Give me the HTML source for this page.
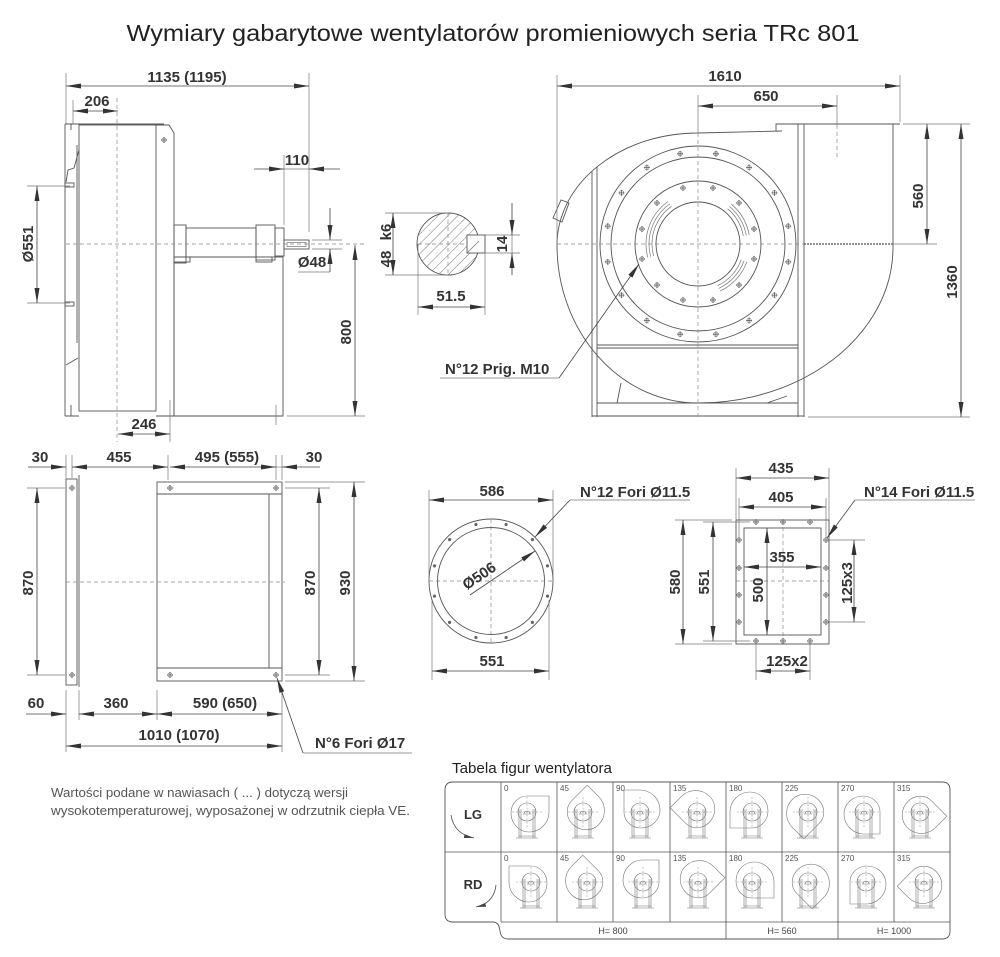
<!DOCTYPE html>
<html><head><meta charset="utf-8"><style>
html,body{margin:0;padding:0;background:#fff;}
svg{display:block;}
.l{stroke:#555;stroke-width:0.9;fill:none;}
.t{stroke:#777;stroke-width:0.7;fill:none;}
.c{stroke:#888;stroke-width:0.7;fill:none;stroke-dasharray:4 3;}
.dm{stroke:#444;stroke-width:0.8;fill:none;marker-start:url(#a);marker-end:url(#a);}
.de{stroke:#444;stroke-width:0.8;fill:none;marker-end:url(#a);}
.x{stroke:#777;stroke-width:0.7;fill:none;}
text{font-family:"Liberation Sans",Arial,sans-serif;}
.d{font-size:15px;font-weight:bold;fill:#333;}
.g{font-size:8px;fill:#555;}
</style></head><body>
<svg width="1000" height="957" viewBox="0 0 1000 957" xmlns="http://www.w3.org/2000/svg">
<defs>
<marker id="a" viewBox="0 0 15 5" refX="15" refY="2.5" markerWidth="15" markerHeight="5" markerUnits="userSpaceOnUse" orient="auto-start-reverse"><path d="M0,0 L15,2.5 L0,5 Z" fill="#333"/></marker>
<marker id="s" viewBox="0 0 10 4" refX="10" refY="2" markerWidth="10" markerHeight="4" markerUnits="userSpaceOnUse" orient="auto"><path d="M0,0 L10,2 L0,4 Z" fill="#444"/></marker>
<g id="hb"><circle r="2.2" fill="none" stroke="#777" stroke-width="0.6"/><path d="M-3,0H3M0,-3V3" stroke="#555" stroke-width="0.8"/></g>
<pattern id="h" width="7" height="7" patternUnits="userSpaceOnUse" patternTransform="rotate(45)"><line x1="0" y1="0" x2="0" y2="7" stroke="#555" stroke-width="0.8"/></pattern>
<path id="sc" d="M0,-16 A16,17 0 0 0 -16,1 A18,19 0 0 0 2,20 A20,20 0 0 0 22,0 V-16 H0" fill="none" stroke="#777" stroke-width="0.6"/>
<g id="pd" stroke="#777" stroke-width="0.6" fill="none">
 <circle r="9"/>
 <path d="M-8,-3V26M8,-3V26M-6,-3V26M6,-3V26M-11,26H11M-8,24H8"/>
 <path d="M-3,2 A3,3 0 0 1 3,2 Z M-4,2H4"/>
 <path d="M-15,0H15M0,-15V15" stroke-dasharray="2 1.5" stroke-width="0.4"/>
</g>
</defs>

<!-- Title -->
<text x="493" y="41" text-anchor="middle" font-size="23" fill="#222" textLength="733" lengthAdjust="spacingAndGlyphs">Wymiary gabarytowe wentylatorów promieniowych seria TRc 801</text>

<!-- ================= SIDE VIEW ================= -->
<g class="l">
 <line x1="65" y1="124" x2="65" y2="416"/>
 <path d="M65,124 H164"/>
 <rect x="79" y="125" width="77" height="286"/>
 <line x1="77" y1="145" x2="77" y2="343"/>
 <path d="M156,125 H169 L174,133 V416"/>
 <path d="M65,416 H79 M156,416 H283"/>
 <path d="M71,124 V130 M71,405 V416"/>
 <path d="M79,150 L74,168 L68,170 L66,182 M66,365 L78,358"/>
 <rect x="65" y="183" width="9" height="4"/>
 <rect x="65" y="302" width="9" height="4"/>
 <!-- motor -->
 <rect x="174" y="225" width="12" height="38"/>
 <rect x="186" y="228" width="70" height="29"/>
 <rect x="256" y="225" width="19" height="35"/>
 <rect x="275" y="228" width="9" height="28"/>
 <rect x="174" y="257" width="109" height="159"/>
 <rect x="174" y="257" width="16" height="5"/>
 <rect x="256" y="257" width="16" height="5"/>
 <rect x="284" y="240" width="25" height="9"/>
 <rect x="287" y="242.5" width="19" height="4" class="t"/>
</g>
<use href="#hb" x="164" y="140"/>
<line x1="66" y1="244" x2="365" y2="244" class="c"/>
<line x1="117" y1="98" x2="117" y2="442" class="c"/>
<!-- side dims -->
<g class="x">
 <line x1="66" y1="73" x2="66" y2="124"/>
 <line x1="309" y1="73" x2="309" y2="232"/>
 <line x1="73" y1="100" x2="73" y2="124"/>
 <line x1="284" y1="155" x2="284" y2="225"/>
 <line x1="27" y1="186" x2="70" y2="186"/>
 <line x1="27" y1="303" x2="70" y2="303"/>
 <line x1="312" y1="240" x2="342" y2="240"/>
 <line x1="312" y1="249" x2="342" y2="249"/>
 <line x1="298" y1="272" x2="330" y2="272"/>
 <line x1="287" y1="416" x2="365" y2="416"/>
 <line x1="170" y1="400" x2="170" y2="442"/>
 <line x1="276" y1="405" x2="276" y2="425"/>
</g>
<line x1="66" y1="86" x2="309" y2="86" class="dm"/>
<text x="187" y="82" class="d" text-anchor="middle">1135 (1195)</text>
<line x1="73" y1="111" x2="118" y2="111" class="dm"/>
<text x="97" y="106" class="d" text-anchor="middle">206</text>
<line x1="254" y1="169" x2="284" y2="169" class="de"/>
<line x1="340" y1="169" x2="309" y2="169" class="de"/>
<line x1="284" y1="169" x2="309" y2="169" class="x"/>
<text x="297" y="165" class="d" text-anchor="middle">110</text>
<line x1="37" y1="186" x2="37" y2="303" class="dm"/>
<text transform="translate(33,244) rotate(-90)" class="d" text-anchor="middle">Ø551</text>
<line x1="330" y1="208" x2="330" y2="240" class="de"/>
<line x1="330" y1="272" x2="330" y2="249" class="de"/>
<text x="312" y="267" class="d" text-anchor="middle">Ø48</text>
<line x1="355" y1="245" x2="355" y2="416" class="dm"/>
<text transform="translate(351,332) rotate(-90)" class="d" text-anchor="middle">800</text>
<line x1="118" y1="434" x2="170" y2="434" class="dm"/>
<text x="144" y="429" class="d" text-anchor="middle">246</text>

<!-- ================= SHAFT SECTION ================= -->
<circle cx="448" cy="244" r="31" fill="url(#h)" stroke="#555" stroke-width="0.9"/>
<rect x="467" y="235" width="18" height="18" fill="#fff" stroke="#555" stroke-width="0.9"/>
<line x1="467" y1="253" x2="479" y2="241" class="t"/>
<path d="M418,244 H467 M448,213 V275" class="c"/>
<g class="x">
 <line x1="385" y1="213" x2="448" y2="213"/>
 <line x1="385" y1="275" x2="448" y2="275"/>
 <line x1="485" y1="235" x2="520" y2="235"/>
 <line x1="485" y1="253" x2="520" y2="253"/>
 <line x1="418" y1="244" x2="418" y2="315"/>
 <line x1="485" y1="253" x2="485" y2="315"/>
</g>
<line x1="393" y1="213" x2="393" y2="275" class="dm"/>
<text transform="translate(391,259) rotate(-90)" class="d" text-anchor="middle">48</text>
<text transform="translate(391,232) rotate(-90)" class="d" text-anchor="middle">k6</text>
<line x1="512" y1="203" x2="512" y2="235" class="de"/>
<line x1="512" y1="275" x2="512" y2="253" class="de"/>
<line x1="512" y1="235" x2="512" y2="253" class="x"/>
<text transform="translate(507,244) rotate(-90)" class="d" text-anchor="middle">14</text>
<line x1="418" y1="307" x2="485" y2="307" class="dm"/>
<text x="451" y="301" class="d" text-anchor="middle">51.5</text>

<!-- ================= FRONT VIEW ================= -->
<g class="l">
 <path d="M782,131 L698,133 A141,112 0 0 0 557,245 A141,158 0 0 0 698,403 A195,156 0 0 0 804,378"/>
 <path d="M893,124 V247 A195,156 0 0 1 804,378"/>
 <path d="M776,131 V124 H900"/>
 <path d="M592,171 V417 M597,167 V417 M798,124 V417 M804,124 V417"/>
 <path d="M597,345 H798 M597,348 H798 M597,403 H798 M592,416 H804"/>
 <path d="M617,403 L621,383 M767,403 L787,396"/>
 <path d="M553,218 L561,200 L569,203 L562,222 Z"/>
 <circle cx="698" cy="244" r="98"/>
 <circle cx="698" cy="244" r="87"/>
 <circle cx="698" cy="244" r="63"/>
 <circle cx="698" cy="244" r="42"/>
</g>
<g class="t">
 <path d="M653.6,255.9 A46,46 0 0 1 671.6,206.3 M650.7,256.7 A49,49 0 0 1 669.9,203.9 M647.8,257.5 A52,52 0 0 1 668.2,201.4"/>
 <path d="M727.6,208.8 A46,46 0 0 1 743.3,236 M729.5,206.5 A49,49 0 0 1 746.3,235.5 M731.4,204.2 A52,52 0 0 1 749.2,235"/>
 <path d="M741.2,259.7 A46,46 0 0 1 717.5,285.7 M744.1,260.8 A49,49 0 0 1 718.7,288.4 M746.9,261.8 A52,52 0 0 1 720,291.1"/>
</g>
<g>
 <use href="#hb" x="788.2" y="261.9"/><use href="#hb" x="788.2" y="226.1"/><use href="#hb" x="607.8" y="261.9"/><use href="#hb" x="607.8" y="226.1"/>
 <use href="#hb" x="774.5" y="295.1"/><use href="#hb" x="774.5" y="192.9"/><use href="#hb" x="621.5" y="295.1"/><use href="#hb" x="621.5" y="192.9"/>
 <use href="#hb" x="749.1" y="320.5"/><use href="#hb" x="749.1" y="167.5"/><use href="#hb" x="646.9" y="320.5"/><use href="#hb" x="646.9" y="167.5"/>
 <use href="#hb" x="715.9" y="334.2"/><use href="#hb" x="715.9" y="153.8"/><use href="#hb" x="680.1" y="334.2"/><use href="#hb" x="680.1" y="153.8"/>
 <use href="#hb" x="754" y="259"/><use href="#hb" x="754" y="229"/><use href="#hb" x="642" y="259"/><use href="#hb" x="642" y="229"/>
 <use href="#hb" x="739" y="285"/><use href="#hb" x="739" y="203"/><use href="#hb" x="657" y="285"/><use href="#hb" x="657" y="203"/>
 <use href="#hb" x="713" y="300"/><use href="#hb" x="713" y="188"/><use href="#hb" x="683" y="300"/><use href="#hb" x="683" y="188"/>
</g>
<line x1="557" y1="244" x2="804" y2="244" class="c"/>
<line x1="698" y1="133" x2="698" y2="420" class="c"/>
<line x1="837" y1="125" x2="837" y2="157" class="c"/>
<line x1="804" y1="244" x2="893" y2="244" stroke="#555" stroke-width="1.2" stroke-dasharray="2 1"/>
<g class="x">
 <line x1="557" y1="75" x2="557" y2="244"/>
 <line x1="900" y1="75" x2="900" y2="122"/>
 <line x1="698" y1="95" x2="698" y2="133"/>
 <line x1="837" y1="95" x2="837" y2="125"/>
 <line x1="903" y1="124" x2="970" y2="124"/>
 <line x1="893" y1="244" x2="937" y2="244"/>
 <line x1="808" y1="417" x2="970" y2="417"/>
 <line x1="440" y1="378" x2="559" y2="378"/>
</g>
<line x1="559" y1="378" x2="639" y2="264" class="de"/>
<text x="445" y="374" class="d">N°12 Prig. M10</text>
<line x1="557" y1="86" x2="900" y2="86" class="dm"/>
<text x="725" y="81" class="d" text-anchor="middle">1610</text>
<line x1="698" y1="106" x2="837" y2="106" class="dm"/>
<text x="766" y="101" class="d" text-anchor="middle">650</text>
<line x1="927" y1="124" x2="927" y2="244" class="dm"/>
<text transform="translate(923,196) rotate(-90)" class="d" text-anchor="middle">560</text>
<line x1="961" y1="124" x2="961" y2="417" class="dm"/>
<text transform="translate(957,282) rotate(-90)" class="d" text-anchor="middle">1360</text>

<!-- ================= BOTTOM-LEFT (feet) ================= -->
<g class="l">
 <rect x="66" y="479" width="11" height="206"/>
 <line x1="79" y1="475" x2="79" y2="687"/>
 <rect x="157" y="482" width="125" height="199"/>
 <path d="M157,494 H282 M157,668 H282 M269,494 V668"/>
</g>
<use href="#hb" x="72" y="488"/><use href="#hb" x="72" y="675"/>
<use href="#hb" x="170" y="488"/><use href="#hb" x="276" y="488"/>
<use href="#hb" x="170" y="675"/><use href="#hb" x="276" y="675"/>
<line x1="66" y1="582" x2="285" y2="582" class="c"/>
<g class="x">
 <path d="M66,455 V478 M72,455 V478 M168,455 V480 M276,455 V480 M282,455 V480"/>
 <path d="M27,488 H65 M27,675 H65"/>
 <path d="M285,488 H330 M285,675 H330 M285,482 H365 M285,681 H365"/>
 <path d="M66,690 V752 M79,690 V720 M157,690 V720 M282,690 V752"/>
 <path d="M276,482 H282 M303,753 H412"/>
</g>
<line x1="28" y1="467" x2="66" y2="467" class="de"/>
<text x="40" y="462" class="d" text-anchor="middle">30</text>
<line x1="72" y1="467" x2="168" y2="467" class="dm"/>
<text x="119" y="462" class="d" text-anchor="middle">455</text>
<line x1="170" y1="467" x2="276" y2="467" class="dm"/>
<text x="227" y="462" class="d" text-anchor="middle">495 (555)</text>
<line x1="320" y1="467" x2="282" y2="467" class="de"/>
<line x1="276" y1="467" x2="282" y2="467" class="x"/>
<text x="314" y="462" class="d" text-anchor="middle">30</text>
<line x1="37" y1="488" x2="37" y2="675" class="dm"/>
<text transform="translate(33,583) rotate(-90)" class="d" text-anchor="middle">870</text>
<line x1="319" y1="488" x2="319" y2="675" class="dm"/>
<text transform="translate(315,583) rotate(-90)" class="d" text-anchor="middle">870</text>
<line x1="354" y1="482" x2="354" y2="681" class="dm"/>
<text transform="translate(350,583) rotate(-90)" class="d" text-anchor="middle">930</text>
<line x1="26" y1="714" x2="66" y2="714" class="de"/>
<text x="36" y="708" class="d" text-anchor="middle">60</text>
<line x1="79" y1="714" x2="157" y2="714" class="dm"/>
<text x="116" y="708" class="d" text-anchor="middle">360</text>
<line x1="157" y1="714" x2="282" y2="714" class="dm"/>
<text x="225" y="708" class="d" text-anchor="middle">590 (650)</text>
<line x1="66" y1="746" x2="282" y2="746" class="dm"/>
<text x="179" y="740" class="d" text-anchor="middle">1010 (1070)</text>
<line x1="303" y1="753" x2="277" y2="678" class="de"/>
<text x="315" y="748" class="d">N°6 Fori Ø17</text>

<!-- ================= CIRCULAR FLANGE ================= -->
<circle cx="491" cy="581" r="62" class="l"/>
<circle cx="491" cy="581" r="53.5" class="l"/>
<path d="M429,581 H553 M491,519 V643" class="c"/>
<g fill="#666">
 <circle cx="547.5" cy="596.1" r="1.6"/><circle cx="547.5" cy="565.9" r="1.6"/><circle cx="434.5" cy="596.1" r="1.6"/><circle cx="434.5" cy="565.9" r="1.6"/>
 <circle cx="532.4" cy="622.4" r="1.6"/><circle cx="532.4" cy="539.6" r="1.6"/><circle cx="449.6" cy="622.4" r="1.6"/><circle cx="449.6" cy="539.6" r="1.6"/>
 <circle cx="506.1" cy="637.5" r="1.6"/><circle cx="506.1" cy="524.5" r="1.6"/><circle cx="475.9" cy="637.5" r="1.6"/><circle cx="475.9" cy="524.5" r="1.6"/>
</g>
<g class="x">
 <path d="M429,490 V581 M553,490 V581 M432,600 V680 M549,600 V680"/>
 <path d="M570,500 H690"/>
</g>
<line x1="491" y1="500" x2="429" y2="500" class="de"/>
<line x1="491" y1="500" x2="553" y2="500" class="de"/>
<text x="492" y="496" class="d" text-anchor="middle">586</text>
<line x1="432" y1="671" x2="549" y2="671" class="dm"/>
<text x="492" y="666" class="d" text-anchor="middle">551</text>
<line x1="470" y1="595" x2="535" y2="551" class="de"/>
<text transform="translate(482,580) rotate(-34)" class="d" text-anchor="middle">Ø506</text>
<line x1="570" y1="500" x2="535" y2="537" class="de"/>
<text x="580" y="497" class="d">N°12 Fori Ø11.5</text>

<!-- ================= RECT FLANGE ================= -->
<rect x="736" y="520" width="93" height="124" class="l"/>
<rect x="744" y="528" width="77" height="107" class="l"/>
<path d="M783,520 V644 M736,581 H829" class="c"/>
<g>
 <use href="#hb" x="756" y="522"/><use href="#hb" x="783" y="522"/><use href="#hb" x="810" y="522"/>
 <use href="#hb" x="756" y="641"/><use href="#hb" x="783" y="641"/><use href="#hb" x="810" y="641"/>
 <use href="#hb" x="739" y="540"/><use href="#hb" x="739" y="568"/><use href="#hb" x="739" y="595"/><use href="#hb" x="739" y="622"/>
 <use href="#hb" x="826" y="540"/><use href="#hb" x="826" y="568"/><use href="#hb" x="826" y="595"/><use href="#hb" x="826" y="622"/>
</g>
<g class="x">
 <path d="M736,468 V520 M829,468 V520 M739,498 V540 M826,498 V540"/>
 <path d="M675,520 H732 M703,522 H750 M675,644 H732 M703,641 H750"/>
 <path d="M829,540 H865 M829,622 H865"/>
 <path d="M756,641 V680 M810,641 V680"/>
 <path d="M855,500 H975"/>
</g>
<line x1="736" y1="478" x2="829" y2="478" class="dm"/>
<text x="781" y="473" class="d" text-anchor="middle">435</text>
<line x1="739" y1="507" x2="826" y2="507" class="dm"/>
<text x="781" y="502" class="d" text-anchor="middle">405</text>
<line x1="744" y1="567" x2="821" y2="567" class="dm"/>
<text x="782" y="562" class="d" text-anchor="middle">355</text>
<line x1="767" y1="528" x2="767" y2="635" class="dm"/>
<text transform="translate(763,590) rotate(-90)" class="d" text-anchor="middle">500</text>
<line x1="683" y1="520" x2="683" y2="644" class="dm"/>
<text transform="translate(680,582) rotate(-90)" class="d" text-anchor="middle">580</text>
<line x1="713" y1="522" x2="713" y2="641" class="dm"/>
<text transform="translate(709,582) rotate(-90)" class="d" text-anchor="middle">551</text>
<line x1="854" y1="540" x2="854" y2="622" class="dm"/>
<text transform="translate(852,583) rotate(-90)" class="d" text-anchor="middle">125x3</text>
<line x1="756" y1="671" x2="810" y2="671" class="dm"/>
<text x="787" y="666" class="d" text-anchor="middle">125x2</text>
<line x1="855" y1="500" x2="827" y2="538" class="de"/>
<text x="864" y="497" class="d">N°14 Fori Ø11.5</text>

<!-- ================= NOTE ================= -->
<text x="51" y="797" font-size="12.5" fill="#555" textLength="297" lengthAdjust="spacingAndGlyphs">Wartości podane w nawiasach ( ... ) dotyczą wersji</text>
<text x="51" y="815" font-size="12.5" fill="#555" textLength="359" lengthAdjust="spacingAndGlyphs">wysokotemperaturowej, wyposażonej w odrzutnik ciepła VE.</text>

<!-- ================= TABLE ================= -->
<text x="452" y="773" font-size="15" fill="#222" textLength="160" lengthAdjust="spacingAndGlyphs">Tabela figur wentylatora</text>
<path d="M453,782 H942 Q950,782 950,790 V931 Q950,939 942,939 H508 Q501,939 500,931 Q499,922 493,922 H453 Q445,922 445,914 V790 Q445,782 453,782 Z" fill="none" stroke="#555" stroke-width="0.9"/>
<g stroke="#555" stroke-width="0.8" fill="none">
 <path d="M501,782 V922 M557,782 V922 M613,782 V922 M670,782 V922 M726,782 V939 M782,782 V922 M838,782 V939 M894,782 V922"/>
 <path d="M445,852 H950 M501,922 H950"/>
</g>
<text x="473" y="819" font-size="13" font-weight="bold" fill="#333" text-anchor="middle">LG</text>
<text x="473" y="889" font-size="13" font-weight="bold" fill="#333" text-anchor="middle">RD</text>
<path d="M451,815 Q454,834 474,838" fill="none" stroke="#444" stroke-width="0.8" marker-end="url(#s)"/>
<path d="M496,885 Q494,903 476,907" fill="none" stroke="#444" stroke-width="0.8" marker-end="url(#s)"/>
<text x="613" y="934" font-size="9" fill="#444" text-anchor="middle">H= 800</text>
<text x="782" y="934" font-size="9" fill="#444" text-anchor="middle">H= 560</text>
<text x="894" y="934" font-size="9" fill="#444" text-anchor="middle">H= 1000</text>

<!-- row LG -->
<g class="g">
 <text x="504" y="791">0</text><text x="560" y="791">45</text><text x="616" y="791">90</text><text x="673" y="791">135</text>
 <text x="729" y="791">180</text><text x="785" y="791">225</text><text x="841" y="791">270</text><text x="897" y="791">315</text>
 <text x="504" y="861">0</text><text x="560" y="861">45</text><text x="616" y="861">90</text><text x="673" y="861">135</text>
 <text x="729" y="861">180</text><text x="785" y="861">225</text><text x="841" y="861">270</text><text x="897" y="861">315</text>
</g>
<g transform="translate(527,812)"><use href="#sc"/><use href="#pd"/></g>
<g transform="translate(583,812)"><use href="#sc" transform="rotate(-45)"/><use href="#pd"/></g>
<g transform="translate(640,812)"><use href="#sc" transform="rotate(-90)"/><use href="#pd"/></g>
<g transform="translate(697,812)"><use href="#sc" transform="rotate(-135)"/><use href="#pd"/></g>
<g transform="translate(752,812)"><use href="#sc" transform="rotate(-180)"/><use href="#pd"/></g>
<g transform="translate(808,812)"><use href="#sc" transform="rotate(-225)"/><use href="#pd"/></g>
<g transform="translate(864,812)"><use href="#sc" transform="rotate(-270)"/><use href="#pd"/></g>
<g transform="translate(920,812)"><use href="#sc" transform="rotate(-315)"/><use href="#pd"/></g>
<!-- row RD -->
<g transform="translate(531,882)"><use href="#sc" transform="scale(-1,1)"/><use href="#pd"/></g>
<g transform="translate(587,882)"><use href="#sc" transform="scale(-1,1) rotate(-45)"/><use href="#pd"/></g>
<g transform="translate(643,882)"><use href="#sc" transform="scale(-1,1) rotate(-90)"/><use href="#pd"/></g>
<g transform="translate(698,882)"><use href="#sc" transform="scale(-1,1) rotate(-135)"/><use href="#pd"/></g>
<g transform="translate(752,882)"><use href="#sc" transform="scale(-1,1) rotate(-180)"/><use href="#pd"/></g>
<g transform="translate(808,882)"><use href="#sc" transform="scale(-1,1) rotate(-225)"/><use href="#pd"/></g>
<g transform="translate(866,882)"><use href="#sc" transform="scale(-1,1) rotate(-270)"/><use href="#pd"/></g>
<g transform="translate(924,882)"><use href="#sc" transform="scale(-1,1) rotate(-315)"/><use href="#pd"/></g>
</svg>
</body></html>
